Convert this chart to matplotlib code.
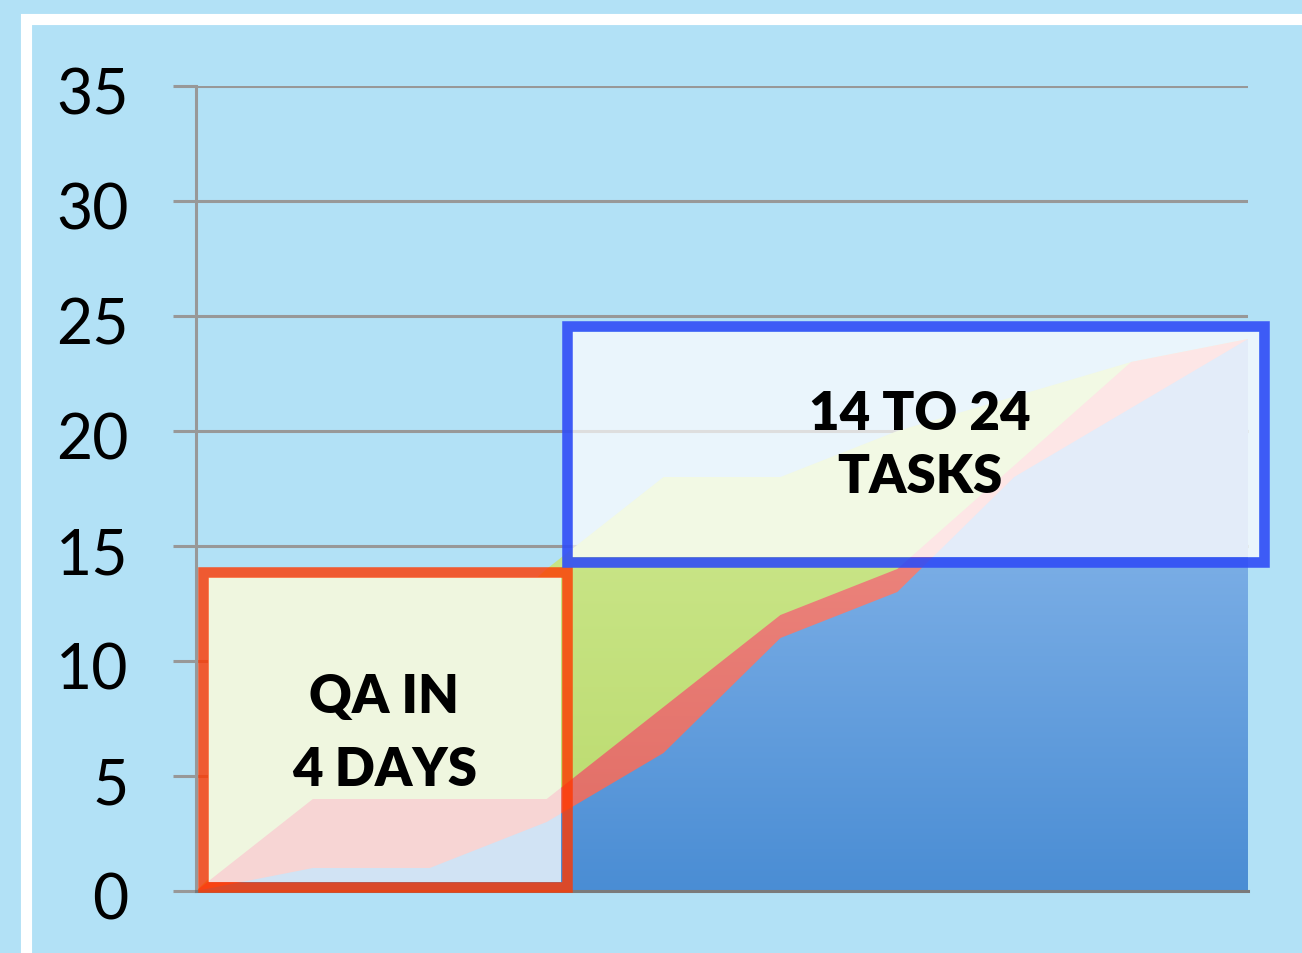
import numpy as np
import matplotlib
matplotlib.use("Agg")
import matplotlib.pyplot as plt
from matplotlib.colors import LinearSegmentedColormap
from matplotlib.patches import Polygon, Rectangle
from matplotlib.transforms import ScaledTranslation

# Burn-up style data: one value per day (no x labels on the chart)
days = np.arange(10)
scope = [0, 5, 9.5, 14, 18, 18, 20, 21.5, 23, 24]      # green
in_qa = [0, 4, 4, 4, 8, 12, 14, 18.5, 23, 24]          # red
done = [0, 1, 1, 3, 6, 11, 13, 18, 21, 24]             # blue
y_ticks = [0, 5, 10, 15, 20, 25, 30, 35]

BG = "#b2e1f6"
GRID = "#989898"


def gradient_area(ax, x, y, top_color, bottom_color, z):
    """Area under y filled with a vertical colour gradient."""
    verts = [(x[0], 0)] + list(zip(x, y)) + [(x[-1], 0)]
    patch = Polygon(verts, closed=True, facecolor="none", edgecolor="none",
                    zorder=z)
    ax.add_patch(patch)
    cmap = LinearSegmentedColormap.from_list("g", [bottom_color, top_color])
    grad = np.linspace(0, 1, 256).reshape(-1, 1)
    im = ax.imshow(grad, cmap=cmap, aspect="auto", origin="lower",
                   extent=[x[0], x[-1], 0, max(y)], zorder=z,
                   interpolation="bilinear")
    im.set_clip_path(patch)


def callout(ax, x0, y0, w, h, fill, pale, edge, z):
    """Semi-see-through box: areas show through it in pale colours."""
    dx, dy = 0.045, 0.23   # half the border width, in data units
    clip = Rectangle((x0 + dx, y0 + dy), w - 2 * dx, h - 2 * dy,
                     facecolor=fill, edgecolor="none", zorder=z, clip_on=False)
    ax.add_patch(clip)
    for gy in [15, 20]:
        ln, = ax.plot([0, 9], [gy, gy], color="#dedede", lw=2.2,
                      solid_capstyle="butt", zorder=z + 0.1)
        ln.set_clip_path(clip)
    for vals, col, k in zip([scope, in_qa, done], pale, [0.2, 0.3, 0.4]):
        fb = ax.fill_between(days, 0, vals, facecolor=col, edgecolor="none",
                             zorder=z + k)
        fb.set_clip_path(clip)
    ax.add_patch(Rectangle((x0, y0), w, h, facecolor="none", edgecolor=edge,
                           linewidth=7.6, zorder=z + 0.5, clip_on=False))


fig = plt.figure(figsize=(13.02, 9.54), dpi=100, facecolor=BG)
ax = fig.add_axes([196 / 1302, 62 / 954, 1052 / 1302, 805 / 954])
ax.set_facecolor("none")

# white frame around the slide
fig.patches.append(Rectangle((25.5, -20), 1290, 954 - 19.5 + 20,
                             transform=None, fill=False, edgecolor="white",
                             linewidth=8.0, zorder=0))

gradient_area(ax, days, scope, "#d2ec98", "#b9d96a", 1)
gradient_area(ax, days, in_qa, "#f3938c", "#e06a62", 2)
gradient_area(ax, days, done, "#9ac3f1", "#4a8dd4", 3)

ax.set_xlim(0, 9)
ax.set_ylim(0, 35)
ax.set_yticks(y_ticks)
ax.set_xticks([])
ax.yaxis.grid(True, color=GRID, linewidth=2.2)
ax.set_axisbelow(True)
for side in ["top", "right"]:
    ax.spines[side].set_visible(False)
ax.spines["left"].set_color(GRID)
ax.spines["left"].set_linewidth(2.2)
ax.spines["bottom"].set_color("#7a7a7a")
ax.spines["bottom"].set_linewidth(2.2)
ax.spines["bottom"].set_zorder(4)
ax.tick_params(axis="y", length=16.5, width=2.2, color=GRID, pad=32,
               labelsize=45, labelcolor="black")
shift = ScaledTranslation(0, -4 / 100, fig.dpi_scale_trans)
for lab in ax.get_yticklabels():
    lab.set_fontfamily("Lato")
    lab.set_transform(lab.get_transform() + shift)

# callout boxes
callout(ax, 0.06, 0.17, 3.11, 13.7, "#eff6df",
        ["#eff6df", "#f7d5d4", "#d1e3f4"], (1.0, 0.22, 0.0, 0.8), 5)
callout(ax, 3.17, 14.3, 5.97, 10.25, "#eaf5fc",
        ["#f2f9e4", "#fde6e6", "#e3ecf9"], (0.19, 0.30, 0.965, 0.9), 6)

ax.text(1.61, 6.85, "QA IN\n4 DAYS", ha="center", va="center", fontsize=38,
        fontfamily="Lato", fontweight="heavy", linespacing=1.6, zorder=8)
ax.text(6.19, 19.4, "14 TO 24\nTASKS", ha="center", va="center", fontsize=38,
        fontfamily="Lato", fontweight="heavy", linespacing=1.36, zorder=8)

fig.savefig("out.png", dpi=100, facecolor=BG)
